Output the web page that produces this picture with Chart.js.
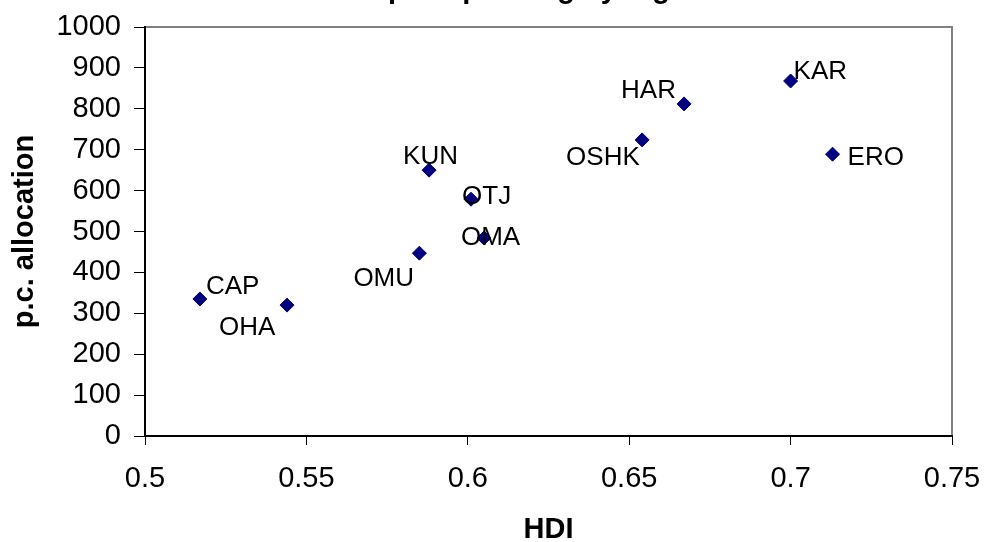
<!DOCTYPE html>
<html>
<head>
<meta charset="utf-8">
<script src="https://cdn.jsdelivr.net/npm/chart.js@4"></script>
<style>
  html, body { margin: 0; padding: 0; background: #fff; overflow: hidden; }
  #wrap { width: 985px; height: 542px; }
</style>
</head>
<body>
<div id="wrap"><canvas id="hdiChart" width="985" height="542"></canvas></div>
<script>
// regions, HDI and per capita allocation
const regions = ['CAP', 'OHA', 'OMU', 'KUN', 'OTJ', 'OMA', 'OSHK', 'HAR', 'KAR', 'ERO'];
const hdi = [0.517, 0.544, 0.585, 0.588, 0.601, 0.605, 0.654, 0.667, 0.700, 0.713];
const allocation = [335, 320, 447, 650, 579, 484, 724, 812, 868, 689];

const xTicks = [0.5, 0.55, 0.6, 0.65, 0.7, 0.75];
const yTicks = [0, 100, 200, 300, 400, 500, 600, 700, 800, 900, 1000];

const chartTitle = 'HDI and p.c. spending by region';
const xTitle = 'HDI';
const yTitle = 'p.c. allocation';

// where each label sits relative to its marker (px)
const labelDx = [6, -68, -66, -26, -9, -23, -76, -63, 3, 15];
const labelDy = [-12, 23, 26, -13, -2, 0, 18, -13, -9, 4];

const points = hdi.map((h, i) => ({ x: h, y: allocation[i] }));

const FONT = '"Liberation Sans", Arial, sans-serif';

const frame = {
  id: 'frame',
  beforeDraw(chart) {
    const { ctx, chartArea: a } = chart;
    ctx.save();
    ctx.strokeStyle = '#808080';
    ctx.lineWidth = 2;
    ctx.beginPath();
    ctx.moveTo(a.left, a.top);
    ctx.lineTo(a.right, a.top);
    ctx.lineTo(a.right, a.bottom);
    ctx.stroke();
    ctx.restore();
  },
  afterDraw(chart) {
    const { ctx, scales } = chart;
    ctx.save();
    // title sits above the visible frame, only its descenders show
    ctx.font = 'bold 29px ' + FONT;
    ctx.fillStyle = '#000';
    ctx.textAlign = 'center';
    ctx.textBaseline = 'alphabetic';
    ctx.fillText(chartTitle, 492, -2);

    ctx.font = '26px ' + FONT;
    ctx.textAlign = 'left';
    ctx.textBaseline = 'middle';
    regions.forEach((r, i) => {
      const px = scales.x.getPixelForValue(hdi[i]);
      const py = scales.y.getPixelForValue(allocation[i]);
      ctx.fillText(r, px + labelDx[i], py + labelDy[i]);
    });
    ctx.restore();
  }
};

new Chart(document.getElementById('hdiChart'), {
  type: 'scatter',
  data: {
    datasets: [{
      label: 'p.c. allocation',
      data: points,
      pointStyle: 'rectRot',
      pointRadius: 7,
      pointHoverRadius: 7,
      backgroundColor: '#000080',
      borderColor: '#000080',
      borderWidth: 1
    }]
  },
  options: {
    responsive: false,
    animation: false,
    events: [],
    layout: { padding: 0 },
    plugins: {
      legend: { display: false },
      tooltip: { enabled: false }
    },
    scales: {
      x: {
        type: 'linear',
        min: 0.5,
        max: 0.75,
        afterBuildTicks: s => { s.ticks = xTicks.map(v => ({ value: v })); },
        afterFit: s => { s.height = 106; s.paddingRight = 33; s.paddingLeft = 0; },
        grid: { drawOnChartArea: false, drawTicks: true, tickLength: 9, color: '#000' },
        border: { display: true, color: '#000', width: 2 },
        ticks: {
          color: '#000',
          padding: 17,
          font: { family: FONT, size: 29 },
          maxRotation: 0,
          callback: v => String(v)
        },
        title: {
          display: true,
          text: xTitle,
          color: '#000',
          font: { family: FONT, size: 29, weight: 'bold', lineHeight: 1 },
          padding: { top: 0, bottom: -2 }
        }
      },
      y: {
        type: 'linear',
        min: 0,
        max: 1000,
        afterBuildTicks: s => { s.ticks = yTicks.map(v => ({ value: v })); },
        afterFit: s => { s.width = 145; s.paddingTop = 27; s.paddingBottom = 0; },
        grid: { drawOnChartArea: false, drawTicks: true, tickLength: 11, color: '#000' },
        border: { display: true, color: '#000', width: 2 },
        ticks: {
          color: '#000',
          padding: 13,
          font: { family: FONT, size: 29 },
          callback: v => String(v)
        },
        title: {
          display: true,
          text: yTitle,
          color: '#000',
          font: { family: FONT, size: 29, weight: 'bold' },
          padding: { top: 8, bottom: 0 }
        }
      }
    }
  },
  plugins: [frame]
});
</script>
</body>
</html>
